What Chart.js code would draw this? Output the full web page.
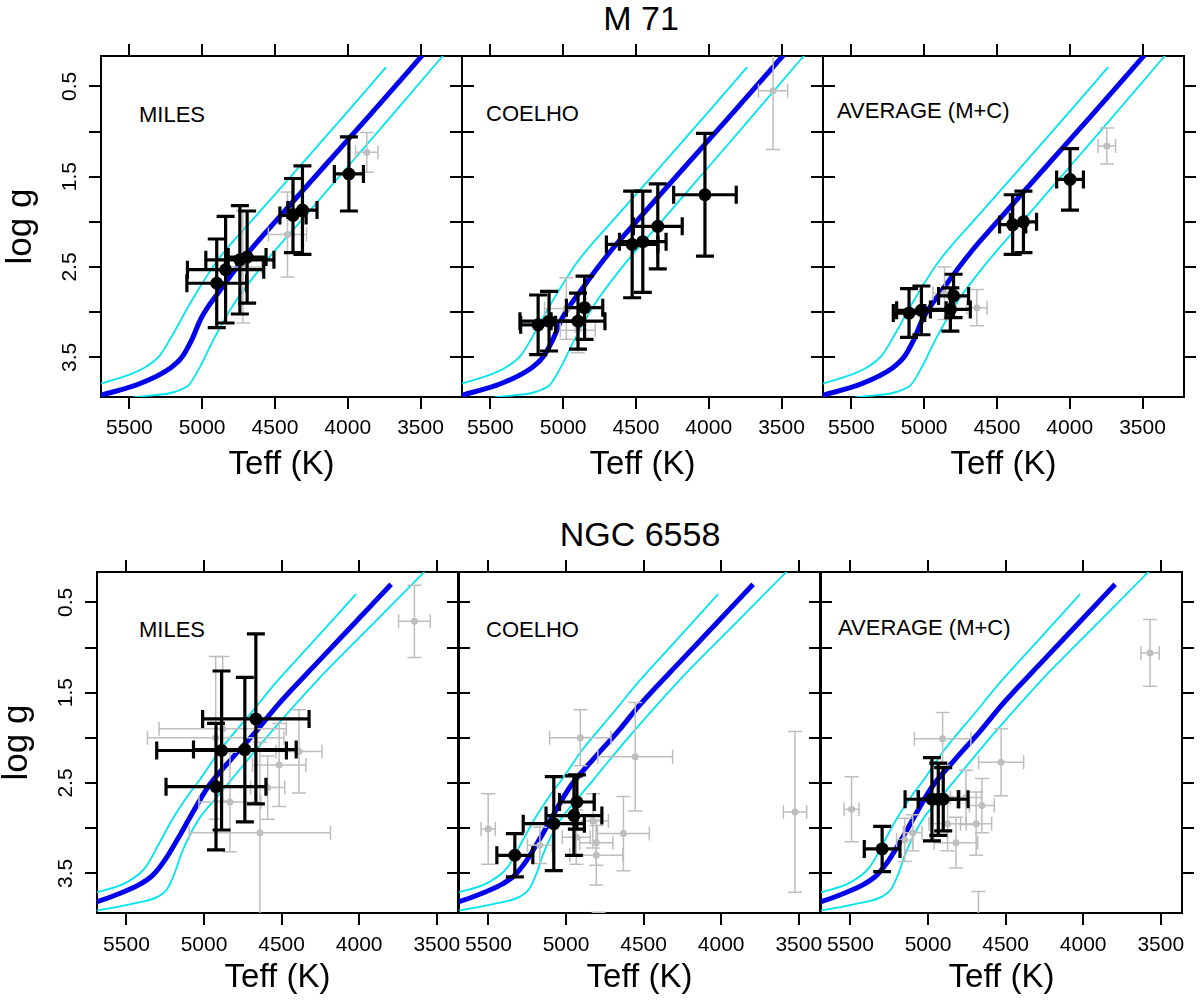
<!DOCTYPE html>
<html>
<head>
<meta charset="utf-8">
<script src="https://cdn.jsdelivr.net/npm/chart.js@4.4.1/dist/chart.umd.min.js"></script>
<style>
  html, body { margin: 0; padding: 0; background: #fff; }
  body { width: 1200px; height: 1005px; position: relative; overflow: hidden;
         font-family: 'Liberation Sans', Arial, Helvetica, sans-serif; color: #000; }
  canvas { position: absolute; }
  .title { position: absolute; width: 400px; text-align: center; font-size: 34px; line-height: 34px; }
  .lab { position: absolute; font-size: 22px; line-height: 22px; white-space: nowrap; }
</style>
</head>
<body>
<div class="title" style="left:441px; top:1px">M 71</div>
<div class="title" style="left:440px; top:517px">NGC 6558</div>
<div class="lab" style="left:139px; top:104px">MILES</div>
<div class="lab" style="left:486px; top:103px">COELHO</div>
<div class="lab" style="left:837px; top:100px">AVERAGE (M+C)</div>
<div class="lab" style="left:139px; top:619px">MILES</div>
<div class="lab" style="left:486px; top:619px">COELHO</div>
<div class="lab" style="left:838px; top:617px">AVERAGE (M+C)</div>
<script>
// tick values
const teffTicks = [3500, 4000, 4500, 5000, 5500];
const loggTicks = [0.5, 1, 1.5, 2, 2.5, 3, 3.5];
const loggLabelled = [0.5, 1.5, 2.5, 3.5];

// stars: [Teff, log g, Teff error, log g error]
const m71MilesBlack = [[3992,1.47,100,0.41],[4376,1.93,90,0.41],[4311,1.87,100,0.49],
  [4741,2.42,234,0.60],[4691,2.39,130,0.51],[4839,2.53,262,0.59],[4900,2.68,205,0.49]];
const m71MilesGray = [[3869,1.23,77,0.22],[4414,2.14,131,0.47],[4720,2.50,130,0.62]];

const m71CoelhoBlack = [[4026,1.70,215,0.68],[4350,2.05,168,0.47],[4453,2.22,160,0.56],
  [4526,2.25,177,0.59],[4853,2.95,125,0.35],[4898,3.10,185,0.31],[5097,3.10,200,0.33],[5172,3.14,120,0.33]];
const m71CoelhoGray = [[3558,0.55,100,0.65],[4978,2.96,150,0.34],[4900,3.20,120,0.25]];

const m71AverageBlack = [[3998,1.53,92,0.34],[4392,2.03,90,0.33],[4318,2.00,90,0.34],
  [4798,2.82,103,0.24],[4820,2.97,137,0.24],[5019,2.98,170,0.27],[5104,3.01,108,0.27]];
const m71AverageGray = [[3745,1.16,60,0.20],[4638,2.95,70,0.20],[4860,2.79,80,0.29]];

const ngcMilesBlack = [[4666,1.79,343,0.94],[4737,2.13,331,0.80],[4887,2.14,418,0.88],[4923,2.54,322,0.70]];
const ngcMilesGray = [[3644,0.71,102,0.40],[4516,2.30,172,0.46],[4388,2.15,148,0.46],[4640,3.05,455,1.00],
  [4833,2.71,200,0.55],[4880,1.90,410,0.80],[4925,2.00,440,0.90],[4590,2.55,110,0.35]];

const ngcCoelhoBlack = [[5330,3.30,116,0.24],[5079,2.95,197,0.52],[4949,2.86,180,0.44],[4930,2.71,112,0.30]];
const ngcCoelhoGray = [[4908,2.00,198,0.31],[4554,2.21,241,0.60],[5502,3.01,46,0.39],[4630,3.06,167,0.41],
  [4805,3.16,107,0.25],[4805,3.30,171,0.33],[5169,3.19,80,0.20],[4827,2.92,100,0.30],
  [4934,3.10,90,0.30],[4790,4.25,60,0.32],[3524,2.82,75,0.89]];

const ngcAverageBlack = [[5296,3.23,115,0.25],[4975,2.68,173,0.46],[4934,2.68,129,0.40],[4902,2.68,160,0.35]];
const ngcAverageGray = [[4906,2.01,182,0.29],[4529,2.27,145,0.37],[5493,2.79,48,0.36],[3569,1.06,59,0.37],
  [4653,2.75,80,0.30],[4690,2.95,100,0.35],[4820,3.16,140,0.28],[5150,3.13,53,0.24],
  [5099,3.05,60,0.20],[4874,2.95,120,0.30],[4756,2.66,100,0.30],[4675,4.30,60,0.60]];

// isochrones: [Teff, log g]
const m71Iso = [[5800,3.97],[5695,3.92],[5426,3.79],[5220,3.62],[5140,3.50],[5070,3.30],[5008,3.07],
  [4878,2.76],[4672,2.32],[4499,2.00],[4340,1.71],[4042,1.17],[3860,0.84],[3517,0.21],[3300,-0.19]];
const m71IsoHot = [[5800,3.84],[5695,3.79],[5403,3.62],[5289,3.475],[5198,3.236],[5083,2.904],
  [4900,2.44],[4650,1.97],[4398,1.51],[3990,0.76],[3736,0.287]];
const m71IsoCool = [[5600,3.99],[5448,3.937],[5106,3.826],[5015,3.605],[4924,3.31],[4787,2.92],
  [4604,2.52],[4300,1.95],[4000,1.39],[3733,0.89],[3348,0.165],[3250,-0.02]];

const ngcIso = [[5800,3.86],[5684,3.81],[5540,3.72],[5412,3.62],[5330,3.52],[5255,3.36],[5170,3.12],
  [5084,2.86],[4977,2.55],[4827,2.24],[4666,1.93],[4527,1.64],[4255,1.14],[4041,0.75],[3794,0.30]];
const ngcIsoHot = [[5800,3.76],[5690,3.71],[5500,3.60],[5380,3.44],[5290,3.17],[5200,2.89],[5100,2.63],
  [5026,2.46],[4898,2.14],[4700,1.73],[4527,1.37],[4300,0.94],[4020,0.41]];
const ngcIsoCool = [[5800,3.95],[5684,3.91],[5470,3.84],[5300,3.76],[5240,3.68],[5190,3.50],[5148,3.29],
  [5041,2.92],[4919,2.66],[4827,2.47],[4600,2.00],[4268,1.36],[3900,0.72],[3580,0.163],[3480,-0.01]];

// layout
const PANEL_W = 361, PANEL_H = 341, TICK = 12, XAXIS_H = 95, YAXIS_W = 101;
const LOGG_RANGE = [0.164, 3.939];
const BLUE = '#0000ee', CYAN = '#00e5ee', GRAY = '#bebebe';

Chart.defaults.font.family = "'Liberation Sans', Arial, Helvetica, sans-serif";
Chart.defaults.color = '#000';

const errorBars = {
  id: 'errorBars',
  beforeDatasetDraw(chart, args) {
    const ds = chart.data.datasets[args.index];
    if (!ds.errors) return;
    const ctx = chart.ctx, a = chart.chartArea;
    const xs = chart.scales.x, ys = chart.scales.y;
    ctx.save();
    ctx.beginPath();
    ctx.rect(a.left, a.top, a.right - a.left, a.bottom - a.top);
    ctx.clip();
    ctx.strokeStyle = ds.borderColor;
    ctx.lineWidth = ds.barWidth;
    const c = ds.capHalf;
    ds.errors.forEach(([t, g, te, ge]) => {
      const px = xs.getPixelForValue(t), py = ys.getPixelForValue(g);
      const xa = xs.getPixelForValue(t - te), xb = xs.getPixelForValue(t + te);
      const ya = ys.getPixelForValue(g - ge), yb = ys.getPixelForValue(g + ge);
      ctx.beginPath();
      ctx.moveTo(xa, py); ctx.lineTo(xb, py);
      ctx.moveTo(px, ya); ctx.lineTo(px, yb);
      ctx.moveTo(xa, py - c); ctx.lineTo(xa, py + c);
      ctx.moveTo(xb, py - c); ctx.lineTo(xb, py + c);
      ctx.moveTo(px - c, ya); ctx.lineTo(px + c, ya);
      ctx.moveTo(px - c, yb); ctx.lineTo(px + c, yb);
      ctx.stroke();
    });
    ctx.restore();
  }
};

function fixSize(size) {
  return s => {
    if (s.isHorizontal()) s.height = size; else s.width = size;
    s.paddingLeft = s.paddingRight = s.paddingTop = s.paddingBottom = 0;
  };
}
function setTicks(vals) {
  return s => { s.ticks = vals.map(v => ({value: v})); };
}
function frame(extra) {
  return Object.assign({
    type: 'linear',
    border: {display: true, color: '#000', width: 2},
    grid: {drawOnChartArea: false, drawTicks: true, tickLength: TICK, lineWidth: 2, color: '#000', tickColor: '#000'}
  }, extra);
}
const pts = arr => arr.map(([t, g]) => ({x: t, y: g}));

function drawPanel(row, col, black, gray, iso, hot, cool) {
  const first = col === 0;
  const padL = first ? YAXIS_W : TICK;
  const cv = document.createElement('canvas');
  cv.width = padL + PANEL_W + TICK;
  cv.height = TICK + PANEL_H + XAXIS_H;
  cv.style.left = (row.lefts[col] - padL) + 'px';
  cv.style.top = (row.top - TICK) + 'px';
  document.body.appendChild(cv);

  const line = (data, color, width) => ({data: pts(data), showLine: true, pointRadius: 0,
    borderColor: color, borderWidth: width, cubicInterpolationMode: 'monotone', clip: 0});

  new Chart(cv.getContext('2d'), {
    type: 'scatter',
    data: {
      datasets: [
        {data: pts(black), errors: black, backgroundColor: '#000', borderColor: '#000',
          pointRadius: 6.5, borderWidth: 0, barWidth: 3.2, capHalf: 9},
        {data: pts(gray), errors: gray, backgroundColor: GRAY, borderColor: GRAY,
          pointRadius: 3.5, borderWidth: 0, barWidth: 1.5, capHalf: 7},
        line(iso, BLUE, 5),
        line(hot, CYAN, 1.8),
        line(cool, CYAN, 1.8)
      ]
    },
    options: {
      responsive: false,
      animation: false,
      events: [],
      layout: {padding: 0, autoPadding: false},
      plugins: {legend: {display: false}, tooltip: {enabled: false}},
      scales: {
        x: frame({axis: 'x', position: 'bottom', reverse: true, min: row.teff[0], max: row.teff[1],
          afterBuildTicks: setTicks(teffTicks), afterFit: fixSize(XAXIS_H),
          ticks: {autoSkip: false, minRotation: 0, maxRotation: 0, padding: row.tickPad,
            font: {size: 21}, callback: v => String(v)},
          title: {display: true, text: 'Teff (K)', font: {size: 33}, padding: {top: 0, bottom: row.titlePad}}}),
        xTop: frame({axis: 'x', position: 'top', reverse: true, min: row.teff[0], max: row.teff[1],
          afterBuildTicks: setTicks(teffTicks), afterFit: fixSize(TICK), ticks: {display: false}}),
        y: frame({axis: 'y', position: 'left', reverse: true, min: LOGG_RANGE[0], max: LOGG_RANGE[1],
          afterBuildTicks: setTicks(loggTicks), afterFit: fixSize(padL),
          ticks: {display: first, autoSkip: false, minRotation: 90, maxRotation: 90, crossAlign: 'center',
            padding: 4, font: {size: 21}, callback: v => loggLabelled.includes(v) ? v.toFixed(1) : ''},
          title: {display: first, text: 'log g', font: {size: 35}, padding: 0}}),
        yRight: frame({axis: 'y', position: 'right', reverse: true, min: LOGG_RANGE[0], max: LOGG_RANGE[1],
          afterBuildTicks: setTicks(loggTicks), afterFit: fixSize(TICK), ticks: {display: false}})
      }
    },
    plugins: [errorBars]
  });
}

const m71Row = {top: 56, lefts: [101, 462, 823], teff: [3215, 5695], tickPad: 7, titlePad: 7};
const ngcRow = {top: 572, lefts: [97, 459, 821], teff: [3363, 5690], tickPad: 7.5, titlePad: 10};

drawPanel(m71Row, 0, m71MilesBlack, m71MilesGray, m71Iso, m71IsoHot, m71IsoCool);
drawPanel(m71Row, 1, m71CoelhoBlack, m71CoelhoGray, m71Iso, m71IsoHot, m71IsoCool);
drawPanel(m71Row, 2, m71AverageBlack, m71AverageGray, m71Iso, m71IsoHot, m71IsoCool);
drawPanel(ngcRow, 0, ngcMilesBlack, ngcMilesGray, ngcIso, ngcIsoHot, ngcIsoCool);
drawPanel(ngcRow, 1, ngcCoelhoBlack, ngcCoelhoGray, ngcIso, ngcIsoHot, ngcIsoCool);
drawPanel(ngcRow, 2, ngcAverageBlack, ngcAverageGray, ngcIso, ngcIsoHot, ngcIsoCool);
</script>
</body>
</html>
